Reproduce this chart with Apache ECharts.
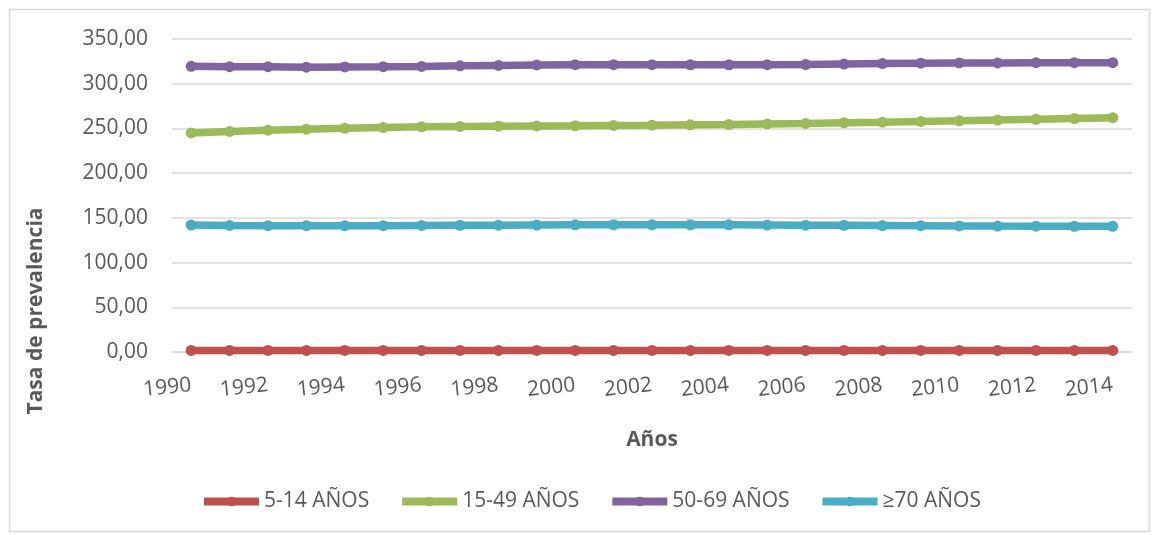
<!DOCTYPE html>
<html>
<head>
<meta charset="utf-8">
<script src="https://cdn.jsdelivr.net/npm/echarts@6/dist/echarts.min.js"></script>
<style>
html,body{margin:0;padding:0;background:#fff;}
#chart{width:1156px;height:535px;}
</style>
</head>
<body>
<div id="chart"></div>
<script>
const years = ['1990','1991','1992','1993','1994','1995','1996','1997','1998','1999','2000','2001','2002','2003','2004','2005','2006','2007','2008','2009','2010','2011','2012','2013','2014'];
const seriesNames = ['5-14 AÑOS','15-49 AÑOS','50-69 AÑOS','≥70 AÑOS'];
const age5to14 = [1.8,1.8,1.8,1.8,1.8,1.8,1.8,1.8,1.8,1.8,1.8,1.8,1.8,1.8,1.8,1.8,1.8,1.8,1.8,1.8,1.8,1.8,1.8,1.8,1.8];
const age15to49 = [245,246.7,248,249.2,250.2,251,251.8,252.2,252.5,252.8,253,253.3,253.6,254,254.4,255,255.6,256.3,257,257.8,258.6,259.4,260.2,261,262];
const age50to69 = [319.5,319,319,318.5,318.8,319,319.3,320,320.5,321,321.3,321.3,321.3,321.2,321.2,321.3,321.5,322,322.5,323,323.3,323.3,323.5,323.5,323.5];
const age70plus = [142,141.5,141.3,141.2,141.2,141.3,141.5,141.7,141.8,142,142.2,142.3,142.3,142.3,142.2,142,141.8,141.6,141.4,141.2,141,140.8,140.7,140.6,140.6];
const yTitle = 'Tasa de prevalencia';
const xTitle = 'Años';

const colors = ['#C0504D','#9BBB59','#8064A2','#4BACC6'];
const dataSets = [age5to14, age15to49, age50to69, age70plus];
const FONT = "'Open Sans', 'Liberation Sans', sans-serif";
const TXT = '#595959';

const chart = echarts.init(document.getElementById('chart'), null, {renderer:'canvas'});
chart.setOption({
  animation:false,
  backgroundColor:'#fff',
  color: colors,
  textStyle:{fontFamily:FONT},
  grid:{left:172, right:24, top:39, bottom:183, containLabel:false},
  graphic:[
    {type:'rect', shape:{x:9.5,y:9.5,width:1140,height:522}, style:{fill:'none', stroke:'#d9d9d9', lineWidth:1.5}, silent:true},
    {type:'text', x:36, y:311, rotation:Math.PI/2,
     style:{text:yTitle, fontFamily:FONT, fontSize:21, fontWeight:'bold', fill:TXT, textAlign:'center', textVerticalAlign:'middle'}}
  ],
  legend:{
    left:195, top:486,
    itemWidth:55, itemHeight:12, itemGap:29,
    lineStyle:{width:8},
    textStyle:{fontFamily:FONT, fontSize:21, color:TXT},
    data: seriesNames
  },
  xAxis:{
    type:'category', data:years, boundaryGap:true,
    name:xTitle, nameLocation:'middle', nameGap:78,
    nameTextStyle:{fontFamily:FONT, fontSize:21, fontWeight:'bold', color:TXT},
    axisLine:{show:true, lineStyle:{color:'#d9d9d9', width:1.5}},
    axisTick:{show:false},
    axisLabel:{interval:1, rotate:6, margin:33, fontFamily:FONT, fontSize:21, color:TXT}
  },
  yAxis:{
    type:'value', min:0, max:350, interval:50,
    axisLine:{show:false}, axisTick:{show:false},
    splitLine:{lineStyle:{color:'#d9d9d9', width:1.5}},
    axisLabel:{margin:24, fontFamily:FONT, fontSize:21, color:TXT,
      formatter:v=>v.toFixed(2).replace('.',',')}
  },
  series: dataSets.map((d,i)=>({
    name:seriesNames[i], type:'line', data:d,
    symbol:'circle', symbolSize:11, showSymbol:true,
    lineStyle:{width:7.5, color:colors[i]},
    itemStyle:{color:colors[i]},
    z: 2
  }))
});
</script>
</body>
</html>
